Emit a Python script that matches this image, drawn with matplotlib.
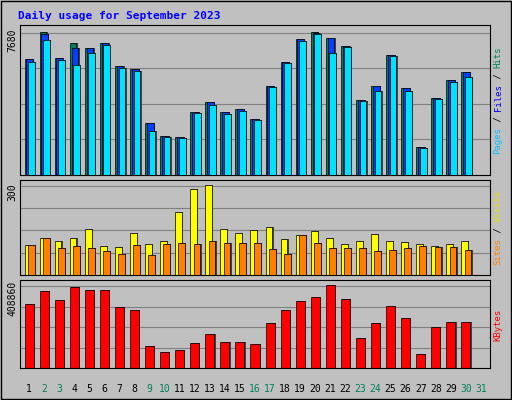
import matplotlib
matplotlib.use("Agg")
import matplotlib.pyplot as plt
import numpy as np

days = list(range(1, 32))
hits_px = [57, 29, 56, 40, 46, 40, 64, 67, 122, 135, 136, 111, 101, 111, 108, 118, 84, 60, 36, 29, 35, 43, 99, 84, 53, 86, 146, 96, 78, 70]
files_px = [57, 31, 56, 46, 46, 40, 64, 67, 122, 135, 136, 111, 101, 111, 108, 118, 84, 60, 36, 30, 35, 43, 99, 84, 53, 86, 146, 96, 78, 70]
pages_px = [60, 37, 58, 63, 51, 42, 66, 69, 130, 136, 137, 112, 104, 113, 110, 119, 85, 61, 38, 31, 51, 45, 100, 89, 54, 89, 147, 98, 80, 75]
visits_px = [245, 238, 241, 238, 229, 246, 247, 233, 244, 241, 211, 188, 184, 229, 233, 230, 226, 239, 235, 231, 238, 244, 241, 234, 241, 242, 244, 246, 244, 241]
sites_px = [245, 238, 248, 246, 248, 251, 254, 245, 255, 244, 243, 244, 241, 243, 243, 243, 249, 254, 235, 243, 248, 248, 248, 251, 250, 248, 246, 247, 247, 250]
kb_px = [303, 290, 299, 286, 289, 289, 306, 309, 346, 352, 350, 343, 333, 342, 342, 344, 322, 309, 300, 296, 284, 298, 338, 322, 305, 317, 354, 326, 321, 321]

hits = [(175 - y) / 145 * 7680 for y in hits_px]
files = [(175 - y) / 145 * 7680 for y in files_px]
pages = [(175 - y) / 145 * 7680 for y in pages_px]
visits = [(275 - y) / 90 * 300 for y in visits_px]
sites = [(275 - y) / 90 * 300 for y in sites_px]
kbytes = [(368 - y) / 83 * 408860 for y in kb_px]

weekend = {2, 3, 9, 10, 16, 17, 23, 24, 30, 31}
BG = "#C0C0C0"

fig = plt.figure(figsize=(5.12, 4.0), dpi=100, facecolor=BG)
W, H = 512, 400
def ax_at(x0, y0, x1, y1):
    return fig.add_axes([x0 / W, 1 - y1 / H, (x1 - x0) / W, (y1 - y0) / H])

def bars(ax, series, colors, width, step):
    x = np.arange(1, 31)
    for k, (vals, c) in enumerate(zip(series, colors)):
        xs = x - 0.3 + k * step
        ax.bar(xs + 0.08, vals, width, bottom=0, color="#404040", align="edge", zorder=2 + k)
        ax.bar(xs, vals, width, color=c, edgecolor="black", linewidth=0.5, align="edge", zorder=2 + k)

axes = [ax_at(20, 25, 490, 175), ax_at(20, 180, 490, 275), ax_at(20, 280, 490, 368)]
tops = [8100, 320, 440000]
for ax, top in zip(axes, tops):
    ax.set_facecolor(BG)
    ax.set_xlim(0.4, 31.6)
    ax.set_ylim(0, top)
    ax.tick_params(left=False, bottom=False, labelleft=False, labelbottom=False)
    for s in ax.spines.values():
        s.set_color("black")

bars(axes[0], [hits, files, pages], ["#00805C", "#0040FF", "#00E0FF"], 0.45, 0.12)
bars(axes[1], [visits, sites], ["#FFFF00", "#FF8000"], 0.45, 0.22)
bars(axes[2], [kbytes], ["#FF0000"], 0.6, 0.0)

for ax, ticks in zip(axes, [[1920, 3840, 5760, 7680], [75, 150, 225, 300], [102215, 204430, 306645, 408860]]):
    for t in ticks:
        ax.axhline(t, color="#808080", linewidth=0.8, zorder=1)

fig.text(18 / W, 1 - 16 / H, "Daily usage for September 2023", color="#0000FF",
         family="DejaVu Sans Mono", fontsize=8, fontweight="bold", va="center")
for y, lab in [(40, "7680"), (192, "300"), (298, "408860")]:
    fig.text(12 / W, 1 - y / H, lab, rotation=90, family="DejaVu Sans Mono", fontsize=7, ha="center", va="center")

def side(yc, parts):
    total = sum(len(p) for p, _ in parts)
    ch = 5.4
    y = yc + total * ch / 2
    for p, c in parts:
        fig.text(498 / W, 1 - y / H, p, rotation=90, color=c, family="DejaVu Sans Mono",
                 fontsize=6.5, ha="center", va="bottom")
        y -= len(p) * ch

side(100, [("Pages", "#00C0FF"), (" / ", "#000000"), ("Files", "#0000FF"), (" / ", "#000000"), ("Hits", "#00805C")])
side(227, [("Sites", "#FF8000"), (" / ", "#000000"), ("Visits", "#E0E000")])
side(325, [("KBytes", "#FF0000")])

for d in days:
    xpix = 20 + (d - 0.4) / 31.2 * 470
    fig.text(xpix / W, 1 - 389 / H, str(d), color="#00805C" if d in weekend else "#000000",
             family="DejaVu Sans Mono", fontsize=7, ha="center", va="center")

fig.add_artist(plt.Rectangle((0.002, 0.002), 0.996, 0.996, transform=fig.transFigure,
                             fill=False, edgecolor="black", linewidth=1))
fig.savefig("out.png", dpi=100, facecolor=BG)
